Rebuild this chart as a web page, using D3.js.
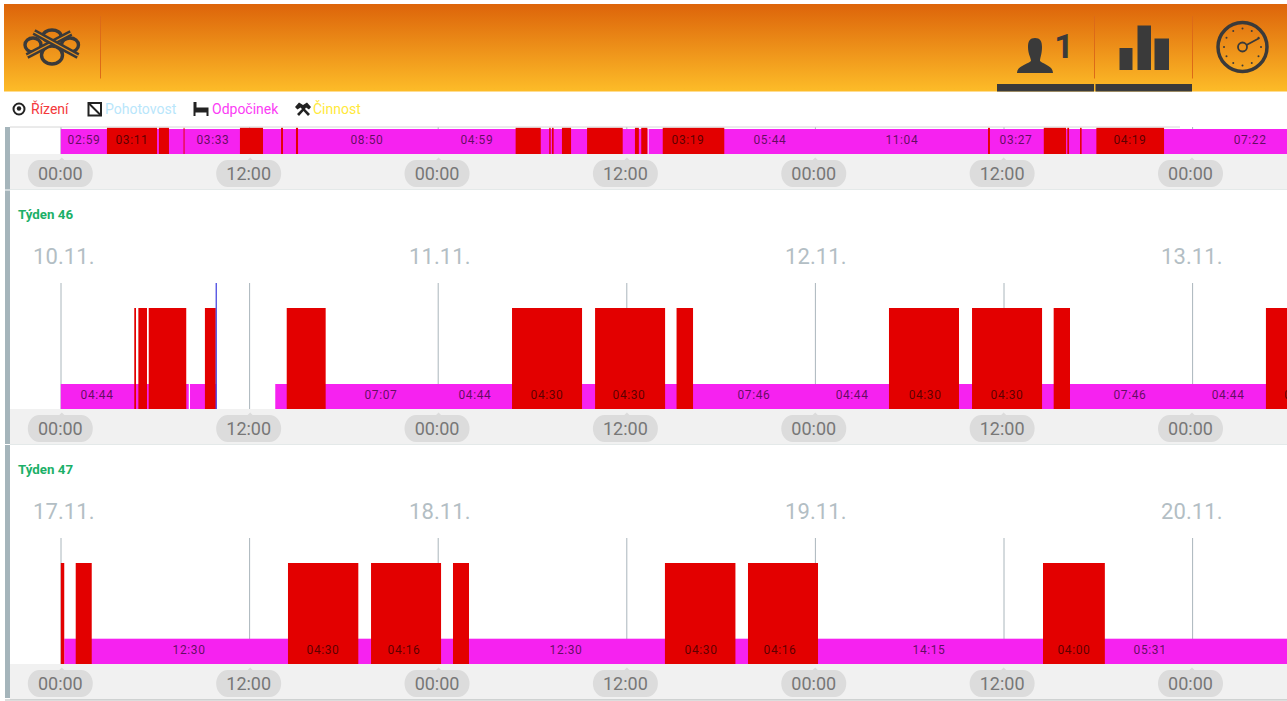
<!DOCTYPE html>
<html>
<head>
<meta charset="utf-8">
<script src="https://cdn.jsdelivr.net/npm/d3@7/dist/d3.min.js"></script>
<style>
  html, body { margin: 0; padding: 0; background: #fff; overflow: hidden; }
  svg { display: block; font-family: Roboto, sans-serif; }
</style>
</head>
<body>
<svg id="my_viz"></svg>
<script>
// Values, all times in hours from the first 00:00 of the row
var tickHours = [0, 12, 24, 36, 48, 60, 72];
var tickLabels = ["00:00", "12:00", "00:00", "12:00", "00:00", "12:00", "00:00"];
var dayHours = [0, 24, 48, 72];

var legendNames = ["Řízení", "Pohotovost", "Odpočinek", "Činnost"];
var legendColors = ["#f4383c", "#b9e6fb", "#fb3cf5", "#ffe93b"];

// previous week, only its last strip is visible
var restTop = [[0, 37.38], [37.44, 80]];
var driveTop = [[2.94, 6.13], [6.25, 6.89], [7.82, 7.88], [11.41, 12.88], [14.03, 14.15], [14.98, 15.11],
    [28.97, 30.57], [31.11, 31.2], [31.29, 31.39], [31.92, 32.5], [33.52, 35.79], [36.57, 36.82], [36.97, 37.36],
    [38.34, 42.26], [59.06, 59.18], [62.61, 64.03], [64.11, 64.22], [64.92, 65.02], [65.96, 70.27]];
var timesTop = ["02:59", "03:11", "03:33", "08:50", "04:59", "03:19", "05:44", "11:04", "03:27", "04:19", "07:22"];
var timeHoursTop = [1.48, 4.53, 9.69, 19.5, 26.5, 39.95, 45.17, 53.57, 60.84, 68.1, 75.75];

var rest46 = [[0, 8.15], [8.23, 9.9], [13.66, 80]];
var drive46 = [[4.68, 4.79], [4.94, 5.49], [5.6, 7.99], [9.18, 9.87], [14.39, 16.87], [28.74, 33.2], [34.03, 38.49],
    [39.22, 40.27], [52.75, 57.21], [58.04, 62.5], [63.24, 64.28], [76.76, 80]];
var times46 = ["04:44", "07:07", "04:44", "04:30", "04:30", "07:46", "04:44", "04:30", "04:30", "07:46", "04:44", "04:30"];
var timeHours46 = [2.31, 20.39, 26.38, 30.97, 36.19, 44.15, 50.4, 55.05, 60.27, 68.1, 74.35, 78.98];
var days46 = ["10.11.", "11.11.", "12.11.", "13.11."];
var nowHour = 9.9;

var rest47 = [[0.22, 80]];
var drive47 = [[0, 0.22], [0.95, 1.97], [14.47, 18.95], [19.76, 24.22], [24.98, 26], [38.48, 42.97], [43.77, 48.23], [62.56, 66.5]];
var times47 = ["12:30", "04:30", "04:16", "12:30", "04:30", "04:16", "14:15", "04:00", "05:31"];
var timeHours47 = [8.17, 16.7, 21.86, 32.18, 40.78, 45.81, 55.3, 64.53, 69.38];
var days47 = ["17.11.", "18.11.", "19.11.", "20.11."];

var svg_width = 1287, svg_height = 701;
var svg = d3.select("#my_viz").attr("width", svg_width).attr("height", svg_height);

var dark = "#3a3a3a";

// Scales. The grid, the pills and the dates drift a little apart in the original
var x = d3.scaleLinear().domain([0, 12]).range([60.8, 249.2]);
var gridX = d3.scaleLinear().domain([0, 72]).range([61, 1192.6]);
var pillX = d3.scaleLinear().domain([0, 72]).range([59.8, 1190]);
var dateX = d3.scaleLinear().domain([0, 72]).range([33, 1161]);

// Header
var defs = svg.append("defs");
var gradient = defs.append("linearGradient")
    .attr("id", "headerGradient")
    .attr("x1", "0%").attr("x2", "0%").attr("y1", "0%").attr("y2", "100%");
gradient.append("stop").attr("offset", "0%").attr("stop-color", "#dd640a");
gradient.append("stop").attr("offset", "100%").attr("stop-color", "#fdbc28");

var header = svg.append("g").attr("id", "header");
header.append("rect").attr("x", 4).attr("y", 4).attr("width", 1283).attr("height", 87.5)
    .attr("fill", "url(#headerGradient)");

[100.5, 1094.5, 1192.5].forEach(function(px) {
    header.append("line").attr("x1", px).attr("x2", px).attr("y1", 16).attr("y2", 78.5)
        .attr("stroke", "#dc6a18").attr("stroke-width", 1);
});
header.append("rect").attr("x", 997).attr("y", 84).attr("width", 97).attr("height", 7.5).attr("fill", dark);
header.append("rect").attr("x", 1095.5).attr("y", 84).attr("width", 96.5).attr("height", 7.5).attr("fill", dark);

// Logo: four loops of an interchange crossed by two roads
var logo = header.append("g").attr("fill", "none").attr("stroke", dark).attr("stroke-width", 3.4);
logo.append("ellipse").attr("cx", 33).attr("cy", 45).attr("rx", 8).attr("ry", 7);
logo.append("ellipse").attr("cx", 70).attr("cy", 45).attr("rx", 8.5).attr("ry", 7);
logo.append("ellipse").attr("cx", 52).attr("cy", 36).attr("rx", 9).attr("ry", 6);
logo.append("ellipse").attr("cx", 52).attr("cy", 55).attr("rx", 10.5).attr("ry", 9);
[[27, 56, 71, 33], [34, 32, 78, 56]].forEach(function(r) {
    logo.append("line").attr("x1", r[0]).attr("y1", r[1]).attr("x2", r[2]).attr("y2", r[3]).attr("stroke-width", 6);
    logo.append("line").attr("x1", r[0]).attr("y1", r[1]).attr("x2", r[2]).attr("y2", r[3]).attr("stroke-width", 1.4).attr("stroke", "#e8901c");
});

// Person icon with its counter
header.append("path")
    .attr("d", "M1017 73 C1017 66 1026 65 1031 61 C1031 58 1028 54 1028 47 C1028 41 1030 38 1035 38 C1040 38 1042 41 1042 47 C1042 54 1040 58 1040 61 C1045 65 1053 66 1053 73 Z")
    .attr("fill", dark);
header.append("text").text("1").attr("x", 1064).attr("y", 58).attr("text-anchor", "middle")
    .style("font-size", "34px").style("font-weight", 700).attr("fill", dark);

// Statistics icon
header.selectAll("rect.statBar")
    .data([[1119.5, 48, 13], [1137.5, 25.5, 13.5], [1154.5, 38.5, 14.5]])
    .enter().append("rect").attr("class", "statBar")
    .attr("x", d => d[0]).attr("y", d => d[1]).attr("width", d => d[2]).attr("height", d => 70 - d[1])
    .attr("fill", dark);

// Gauge icon
var gauge = header.append("g").attr("transform", "translate(1242.5,47)");
gauge.append("circle").attr("r", 24.5).attr("fill", "none").attr("stroke", dark).attr("stroke-width", 3.5);
gauge.selectAll("circle.dot").data(d3.range(12)).enter().append("circle").attr("class", "dot")
    .attr("cx", d => 18.5 * Math.cos(d * Math.PI / 6))
    .attr("cy", d => 18.5 * Math.sin(d * Math.PI / 6))
    .attr("r", 1).attr("fill", dark);
gauge.append("circle").attr("r", 4.5).attr("fill", "none").attr("stroke", dark).attr("stroke-width", 1.8);
gauge.append("line").attr("x1", 4).attr("y1", -2).attr("x2", 17).attr("y2", -9).attr("stroke", dark).attr("stroke-width", 1.8);

// Legend
var legendX = [31, 105, 212, 313];
var legend = svg.append("g").attr("id", "legend");
legend.selectAll("text").data(legendNames).enter().append("text")
    .text(d => d)
    .attr("x", (d, i) => legendX[i])
    .attr("y", 114)
    .attr("fill", (d, i) => legendColors[i])
    .style("font-size", "14px");

legend.append("circle").attr("cx", 19).attr("cy", 109).attr("r", 5.5).attr("fill", "none").attr("stroke", "#222").attr("stroke-width", 2);
legend.append("circle").attr("cx", 19).attr("cy", 108.5).attr("r", 2.2).attr("fill", "#222");
legend.append("rect").attr("x", 88.5).attr("y", 103).attr("width", 12.5).attr("height", 12.5).attr("fill", "none").attr("stroke", "#222").attr("stroke-width", 2);
legend.append("line").attr("x1", 88.5).attr("y1", 103).attr("x2", 101).attr("y2", 115.5).attr("stroke", "#222").attr("stroke-width", 2);
legend.append("path").attr("d", "M193.5 102 V116 H195.5 V112.5 H206.5 V116 H208.5 V107.5 H196.5 V102 Z").attr("fill", "#222");
legend.append("path").attr("d", "M295 107 L299 102.5 L303 105 L307 102.5 L311 107 L309 109.5 L306 107.5 L305 109 L310 114 L308 116 L303.5 111 L299 116 L297 114 L302 109 L300.5 107.5 L297.5 109.5 Z").attr("fill", "#222");

// One week: grid, strips, times, dates and the time axis
function drawWeek(top, rest, drive, times, timeHours, opts) {
    var g = svg.append("g").attr("class", "week");

    g.append("rect").attr("x", 10).attr("y", top.axis).attr("width", svg_width - 10).attr("height", 35).attr("fill", "#f1f1f1");
    g.append("line").attr("x1", 10).attr("x2", svg_width).attr("y1", top.axis + 35.5).attr("y2", top.axis + 35.5).attr("stroke", "#e4e9e9");

    g.selectAll("line.grid").data(tickHours).enter().append("line").attr("class", "grid")
        .attr("x1", d => gridX(d)).attr("x2", d => gridX(d))
        .attr("y1", top.grid).attr("y2", top.axis)
        .attr("stroke", "#aab6bc").attr("stroke-width", 1);

    g.selectAll("rect.rest").data(rest).enter().append("rect").attr("class", "rest")
        .attr("x", d => x(d[0])).attr("width", d => x(d[1]) - x(d[0]))
        .attr("y", top.rest).attr("height", top.axis - top.rest)
        .attr("fill", "#f622f0");

    g.selectAll("rect.drive").data(drive).enter().append("rect").attr("class", "drive")
        .attr("x", d => x(d[0])).attr("width", d => x(d[1]) - x(d[0]))
        .attr("y", top.drive).attr("height", top.axis - top.drive)
        .attr("fill", "#e30000");

    if (opts.now !== undefined) {
        g.append("line").attr("x1", x(opts.now)).attr("x2", x(opts.now))
            .attr("y1", top.grid).attr("y2", top.axis)
            .attr("stroke", "#3a3adf").attr("stroke-width", 1.2);
    }

    g.selectAll("text.time").data(times).enter().append("text").attr("class", "time")
        .text(d => d)
        .attr("x", (d, i) => x(timeHours[i]))
        .attr("y", top.axis - 10)
        .attr("text-anchor", "middle")
        .attr("fill", "#000").attr("fill-opacity", 0.62)
        .style("font-size", "12px").style("letter-spacing", "0.6px");

    if (opts.week) {
        g.append("text").text(opts.week).attr("x", 18).attr("y", top.grid - 64)
            .attr("fill", "#1bb068").style("font-size", "13.3px").style("font-weight", 700);
        g.selectAll("text.day").data(opts.days).enter().append("text").attr("class", "day")
            .text(d => d)
            .attr("x", (d, i) => dateX(dayHours[i]))
            .attr("y", top.grid - 19)
            .attr("fill", "#b3bec4")
            .style("font-size", "22px").style("letter-spacing", "0.1px");
    }

    // Time axis, the ticks become pills with a small nose
    var axis = g.append("g")
        .attr("transform", "translate(0," + (top.axis + 19.5) + ")")
        .call(d3.axisBottom(pillX).tickValues(tickHours).tickSize(0).tickFormat((d, i) => tickLabels[i]));
    axis.select(".domain").remove();
    axis.selectAll(".tick").insert("path", "text")
        .attr("d", "M-21 -13.5 H-1 L1.5 -16 L4 -13.5 H21 A11.5 13.5 0 0 1 21 13.5 H-21 A11.5 13.5 0 0 1 -21 -13.5 Z")
        .attr("fill", "#dcdcdc");
    axis.selectAll(".tick text")
        .attr("y", 0).attr("dy", "0.36em")
        .attr("fill", "#777")
        .style("font-family", "Roboto, sans-serif")
        .style("font-size", "18px");
    return g;
}

drawWeek({grid: 127, drive: 127.7, rest: 129, axis: 154}, restTop, driveTop, timesTop, timeHoursTop, {});
drawWeek({grid: 283, drive: 308, rest: 384, axis: 409}, rest46, drive46, times46, timeHours46,
    {week: "Týden 46", days: days46, now: nowHour});
drawWeek({grid: 538, drive: 563, rest: 638.7, axis: 664}, rest47, drive47, times47, timeHours47,
    {week: "Týden 47", days: days47});

// Rule above the first strip and the bar down the left side
svg.append("line").attr("x1", 10).attr("x2", 1180).attr("y1", 127).attr("y2", 127).attr("stroke", "#d6d6d6");
svg.selectAll("rect.side").data([[127, 189.5], [190.5, 444], [445, 698]]).enter().append("rect").attr("class", "side")
    .attr("x", 5).attr("width", 5).attr("y", d => d[0]).attr("height", d => d[1] - d[0]).attr("fill", "#a5b5bb");
svg.append("line").attr("x1", 5).attr("x2", svg_width).attr("y1", 700).attr("y2", 700).attr("stroke", "#bbb");
</script>
</body>
</html>
